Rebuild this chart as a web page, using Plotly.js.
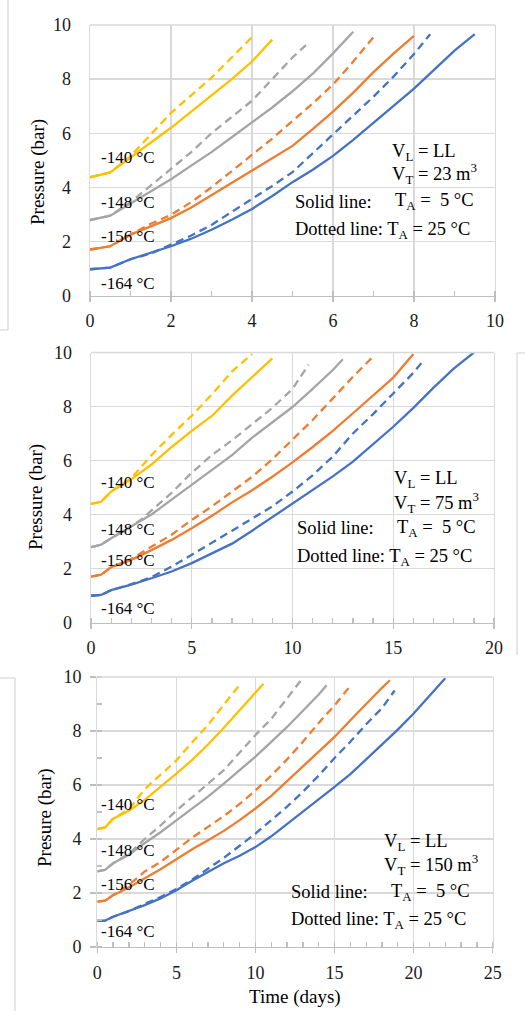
<!DOCTYPE html>
<html>
<head>
<meta charset="utf-8">
<script src="https://cdn.plot.ly/plotly-3.0.1.min.js"></script>
<style>
html,body{margin:0;padding:0;background:#fff;}
#chart{width:525px;height:1011px;}
</style>
</head>
<body>
<div id="chart"></div>
<script>
// ---------- DATA ----------
// Panel 1: V_T = 23 m3 (time in days, pressure in bar)
const p1_140_solid_days = [0,0.5,1,1.5,2,2.5,3,3.5,4,4.5];
const p1_140_solid_p    = [4.37,4.55,5.1,5.65,6.2,6.8,7.4,8.0,8.65,9.46];
const p1_140_dash_days  = [0,0.5,1,1.5,2,2.5,3,3.5,4];
const p1_140_dash_p     = [4.37,4.55,5.15,5.95,6.75,7.4,8.05,8.8,9.55];
const p1_148_solid_days = [0,0.5,1,1.5,2,2.5,3,3.5,4,4.5,5,5.5,6,6.5];
const p1_148_solid_p    = [2.79,2.95,3.4,3.85,4.3,4.8,5.3,5.85,6.4,6.95,7.55,8.2,8.95,9.75];
const p1_148_dash_days  = [0,0.5,1,1.5,2,2.5,3,3.5,4,4.5,5,5.4];
const p1_148_dash_p     = [2.79,2.95,3.45,4.05,4.68,5.3,6.0,6.6,7.2,8.0,8.8,9.35];
const p1_156_solid_days = [0,0.5,1,1.5,2,2.5,3,3.5,4,4.5,5,5.5,6,6.5,7,7.5,8];
const p1_156_solid_p    = [1.7,1.82,2.25,2.55,2.86,3.25,3.7,4.15,4.62,5.05,5.53,6.15,6.8,7.5,8.26,8.95,9.6];
const p1_156_dash_days  = [0,0.5,1,1.5,2,2.5,3,3.5,4,4.5,5,5.5,6,6.5,7];
const p1_156_dash_p     = [1.7,1.82,2.25,2.65,2.98,3.45,4.0,4.6,5.2,5.8,6.45,7.1,7.8,8.65,9.55];
const p1_164_solid_days = [0,0.5,1,1.5,2,2.5,3,3.5,4,4.5,5,5.5,6,6.5,7,7.5,8,8.5,9,9.5];
const p1_164_solid_p    = [0.97,1.03,1.34,1.57,1.82,2.1,2.43,2.8,3.2,3.68,4.19,4.65,5.16,5.75,6.38,7.0,7.65,8.35,9.05,9.66];
const p1_164_dash_days  = [0,0.5,1,1.5,2,2.5,3,3.5,4,4.5,5,5.5,6,6.5,7,7.5,8,8.4];
const p1_164_dash_p     = [0.97,1.03,1.34,1.55,1.88,2.22,2.61,3.08,3.58,4.05,4.56,5.25,5.95,6.65,7.35,8.1,8.93,9.66];

// Panel 2: V_T = 75 m3
const p2_140_solid_days = [0,0.5,1,2,3,4,5,6,7,8,9];
const p2_140_solid_p    = [4.39,4.47,4.85,5.3,5.85,6.5,7.1,7.65,8.4,9.1,9.78];
const p2_140_dash_days  = [0,0.5,1,2,3,4,5,6,7,8];
const p2_140_dash_p     = [4.39,4.47,4.85,5.35,6.2,6.95,7.66,8.45,9.3,9.95];
const p2_148_solid_days = [0,0.5,1,2,3,4,5,6,7,8,9,10,11,12,12.5];
const p2_148_solid_p    = [2.79,2.88,3.12,3.55,4.0,4.55,5.1,5.62,6.2,6.85,7.4,7.98,8.65,9.35,9.75];
const p2_148_dash_days  = [0,0.5,1,2,2.5,3,4,5,6,7,8,9,10,10.8];
const p2_148_dash_p     = [2.79,2.88,3.12,3.56,3.82,4.15,4.8,5.55,6.2,6.75,7.35,7.95,8.65,9.55];
const p2_156_solid_days = [0,0.5,1,2,3,4,5,6,7,8,9,10,11,12,13,14,15,16];
const p2_156_solid_p    = [1.7,1.77,2.05,2.32,2.68,3.06,3.49,3.95,4.45,4.9,5.4,5.93,6.5,7.1,7.75,8.4,9.07,9.94];
const p2_156_dash_days  = [0,0.5,1,2,2.6,3,4,5,6,7,8,9,10,11,12,13,14];
const p2_156_dash_p     = [1.7,1.77,2.05,2.35,2.63,2.81,3.25,3.8,4.3,4.85,5.4,6.05,6.79,7.5,8.3,9.1,9.85];
const p2_164_solid_days = [0,0.5,1,2,3,4,5,6,7,8,9,10,11,12,13,14,15,16,17,18,19];
const p2_164_solid_p    = [0.99,1.02,1.2,1.4,1.64,1.89,2.2,2.55,2.92,3.4,3.9,4.42,4.91,5.41,5.96,6.6,7.25,7.95,8.7,9.4,10.0];
const p2_164_dash_days  = [0,0.5,1,2,3,4,5,6,7,8,9,10,11,12,13,14,15,16,16.5];
const p2_164_dash_p     = [0.99,1.02,1.2,1.42,1.68,2.07,2.51,2.94,3.4,3.85,4.3,4.85,5.45,6.15,7.0,7.72,8.5,9.25,9.7];

// Panel 3: V_T = 150 m3
const p3_140_solid_days = [0,0.5,1,2,3,4,5,6,7,8,9,10,10.5];
const p3_140_solid_p    = [4.37,4.43,4.75,5.05,5.45,5.93,6.42,6.93,7.5,8.12,8.78,9.43,9.75];
const p3_140_dash_days  = [0,0.5,1,2,3,4,5,6,7,8,9];
const p3_140_dash_p     = [4.37,4.43,4.75,5.1,5.85,6.38,6.91,7.58,8.22,8.98,9.7];
const p3_148_solid_days = [0,0.5,1,2,3,4,5,6,7,8,9,10,11,12,13,14,14.5];
const p3_148_solid_p    = [2.8,2.86,3.1,3.42,3.85,4.25,4.69,5.12,5.57,6.05,6.55,7.05,7.6,8.15,8.75,9.35,9.69];
const p3_148_dash_days  = [0,0.5,1,2,3,4,5,6,7,8,9,10,11,12,13];
const p3_148_dash_p     = [2.8,2.86,3.1,3.45,4.0,4.5,5.05,5.55,6.05,6.55,7.2,7.85,8.45,9.2,9.97];
const p3_156_solid_days = [0,0.5,1,2,3,4,5,6,7,8,9,10,11,12,13,14,15,16,17,18,18.5];
const p3_156_solid_p    = [1.68,1.72,1.92,2.2,2.55,2.88,3.25,3.62,3.95,4.3,4.7,5.13,5.6,6.15,6.7,7.22,7.78,8.4,9.02,9.6,9.88];
const p3_156_dash_days  = [0,0.5,1,2,3,4,5,6,7,8,9,10,11,12,13,14,15,16];
const p3_156_dash_p     = [1.68,1.72,1.92,2.3,2.8,3.15,3.6,4.05,4.45,4.85,5.3,5.8,6.35,6.95,7.6,8.3,8.95,9.67];
const p3_164_solid_days = [0,0.5,1,2,3,4,5,6,7,8,9,10,11,12,13,14,15,16,17,18,19,20,21,22];
const p3_164_solid_p    = [0.97,0.98,1.12,1.33,1.55,1.8,2.1,2.45,2.78,3.1,3.38,3.7,4.1,4.55,5.0,5.45,5.93,6.4,6.95,7.5,8.05,8.65,9.3,9.95];
const p3_164_dash_days  = [0,0.5,1,2,3,4,5,6,7,8,9,10,11,12,13,14,15,16,17,18,18.8];
const p3_164_dash_p     = [0.97,0.98,1.12,1.33,1.6,1.85,2.15,2.5,2.9,3.3,3.75,4.2,4.7,5.2,5.75,6.35,7.0,7.6,8.25,8.85,9.5];

const tempLabels = ['-140 °C','-148 °C','-156 °C','-164 °C'];
const tankVolumes = ['23','75','150'];
const xTickSteps = [2,5,5];
const xMax = [10,20,25];
const yTitles = ['Pressure (bar)','Pressure (bar)','Presure (bar)'];
const xTitle = 'Time (days)';

// ---------- STYLE ----------
const C140 = '#FFC000', C148 = '#A5A5A5', C156 = '#ED7D31', C164 = '#4472C4';
const FONT = 'Liberation Serif';
const W = 525, H = 1011;
const px = v => v / W;
const py = v => 1 - v / H;

function tr(x, y, color, dashed, n) {
  return {
    type: 'scatter', mode: 'lines', x: x, y: y,
    xaxis: n === 1 ? 'x' : 'x' + n, yaxis: n === 1 ? 'y' : 'y' + n,
    line: {color: color, width: 2.3, dash: dashed ? '8px,5px' : 'solid'},
    hoverinfo: 'skip', showlegend: false, cliponaxis: false
  };
}

const data = [
  tr(p1_164_dash_days, p1_164_dash_p, C164, true, 1),
  tr(p1_156_dash_days, p1_156_dash_p, C156, true, 1),
  tr(p1_148_dash_days, p1_148_dash_p, C148, true, 1),
  tr(p1_140_dash_days, p1_140_dash_p, C140, true, 1),
  tr(p1_164_solid_days, p1_164_solid_p, C164, false, 1),
  tr(p1_156_solid_days, p1_156_solid_p, C156, false, 1),
  tr(p1_148_solid_days, p1_148_solid_p, C148, false, 1),
  tr(p1_140_solid_days, p1_140_solid_p, C140, false, 1),

  tr(p2_164_dash_days, p2_164_dash_p, C164, true, 2),
  tr(p2_156_dash_days, p2_156_dash_p, C156, true, 2),
  tr(p2_148_dash_days, p2_148_dash_p, C148, true, 2),
  tr(p2_140_dash_days, p2_140_dash_p, C140, true, 2),
  tr(p2_164_solid_days, p2_164_solid_p, C164, false, 2),
  tr(p2_156_solid_days, p2_156_solid_p, C156, false, 2),
  tr(p2_148_solid_days, p2_148_solid_p, C148, false, 2),
  tr(p2_140_solid_days, p2_140_solid_p, C140, false, 2),

  tr(p3_164_dash_days, p3_164_dash_p, C164, true, 3),
  tr(p3_156_dash_days, p3_156_dash_p, C156, true, 3),
  tr(p3_148_dash_days, p3_148_dash_p, C148, true, 3),
  tr(p3_140_dash_days, p3_140_dash_p, C140, true, 3),
  tr(p3_164_solid_days, p3_164_solid_p, C164, false, 3),
  tr(p3_156_solid_days, p3_156_solid_p, C156, false, 3),
  tr(p3_148_solid_days, p3_148_solid_p, C148, false, 3),
  tr(p3_140_solid_days, p3_140_solid_p, C140, false, 3)
];

// panel pixel boxes: [left, right, top, bottom]
const boxes = [
  [90, 495, 25, 295.5],
  [91, 494, 352.5, 622.5],
  [97.3, 492.7, 677, 947]
];
const GRID = '#d9d9d9', AXL = '#bfbfbf';

function xax(i, n) {
  const b = boxes[i];
  return {
    domain: [px(b[0]), px(b[1])], anchor: n === 1 ? 'y' : 'y' + n,
    range: [0, xMax[i]], dtick: xTickSteps[i], tick0: 0,
    showgrid: true, gridcolor: GRID, gridwidth: 1.3,
    zeroline: false, showline: true, linecolor: AXL, linewidth: 1.3,
    ticks: 'outside', ticklen: 5, tickcolor: AXL, tickwidth: 1.3,
    minor: {dtick: 1, tick0: 0, ticks: 'inside', ticklen: 5, tickcolor: AXL, tickwidth: 1.3, showgrid: false},
    tickfont: {family: FONT, size: 18, color: '#1a1a1a'},
    ticklabelstandoff: 4, fixedrange: true
  };
}
function yax(i, n) {
  const b = boxes[i];
  const o = {
    domain: [py(b[3]), py(b[2])], anchor: n === 1 ? 'x' : 'x' + n,
    range: [0, 10], dtick: 2, tick0: 0,
    showgrid: true, gridcolor: GRID, gridwidth: 1.3,
    zeroline: false, showline: true, mirror: true, linecolor: GRID, linewidth: 1.3,
    ticks: '', tickfont: {family: FONT, size: 18, color: '#1a1a1a'},
    ticklabelstandoff: 14, fixedrange: true
  };
  if (i === 2) {
    o.ticks = 'outside'; o.ticklen = 6; o.tickcolor = AXL; o.tickwidth = 1.3;
    o.ticklabelstandoff = 5;
    o.minor = {dtick: 1, tick0: 0, ticks: 'inside', ticklen: 5, tickcolor: AXL, tickwidth: 1.3, showgrid: false};
  }
  return o;
}

const ann = [];
function txt(text, x, y, size, anchor, angle) {
  ann.push({text: text, xref: 'paper', yref: 'paper', x: px(x), y: py(y),
    xanchor: anchor || 'left', yanchor: 'middle', showarrow: false,
    textangle: angle || 0, font: {family: FONT, size: size, color: '#000'}});
}

// temperature labels (pixel positions)
const tempY = [[157, 203, 236, 283], [483, 529, 560, 608], [804, 850, 884, 931]];
for (let i = 0; i < 3; i++) {
  for (let k = 0; k < 4; k++) txt(tempLabels[k], 99, tempY[i][k], 17);
}
// text blocks
const blk = [
  {vx: 390, vl: 152, vt: 174, sx: 293, ts: 393, sl: 202, dl: 230},
  {vx: 392, vl: 480, vt: 502, sx: 295, ts: 395, sl: 528, dl: 557},
  {vx: 382, vl: 842, vt: 864, sx: 289, ts: 389, sl: 892, dl: 920}
];
for (let i = 0; i < 3; i++) {
  const b = blk[i];
  txt('V<sub>L</sub> = LL', b.vx, b.vl, 18.5);
  txt('V<sub>T</sub> = ' + tankVolumes[i] + ' m<sup>3</sup>', b.vx, b.vt, 18.5);
  txt('Solid line:', b.sx, b.sl, 18.5);
  txt('T<sub>A</sub> =\u00a0\u00a05 °C', b.ts, b.sl, 18.5);
  txt('Dotted line: T<sub>A</sub> = 25 °C', b.sx, b.dl, 18.5);
}
// axis titles
txt(yTitles[0], 38, 172, 19, 'center', -90);
txt(yTitles[1], 36, 497, 19, 'center', -90);
txt(yTitles[2], 45, 818, 19, 'center', -90);
txt(xTitle, 295, 997, 19, 'center');

// frame lines from the original page crops + top border of each plot area
function seg(x0, y0, x1, y1, c) {
  return {type: 'line', xref: 'paper', yref: 'paper', x0: px(x0), y0: py(y0), x1: px(x1), y1: py(y1),
    line: {color: c || '#cfcfcf', width: c ? 1.3 : 1}};
}
const shapes = [
  seg(8, 0, 8, 330), seg(0, 330, 8, 330),
  seg(517, 353, 517, 655), seg(517, 353, 525, 353),
  seg(15, 678, 15, 1011), seg(0, 678, 15, 678)
];
boxes.forEach(b => shapes.push(seg(b[0], b[2], b[1], b[2], GRID)));

const layout = {
  width: W, height: H, margin: {l: 0, r: 0, t: 0, b: 0},
  font: {family: FONT},
  paper_bgcolor: '#fff', plot_bgcolor: '#fff', showlegend: false,
  xaxis: xax(0, 1), yaxis: yax(0, 1),
  xaxis2: xax(1, 2), yaxis2: yax(1, 2),
  xaxis3: xax(2, 3), yaxis3: yax(2, 3),
  annotations: ann, shapes: shapes
};

Plotly.newPlot('chart', data, layout, {staticPlot: true, displayModeBar: false});
</script>
</body>
</html>
